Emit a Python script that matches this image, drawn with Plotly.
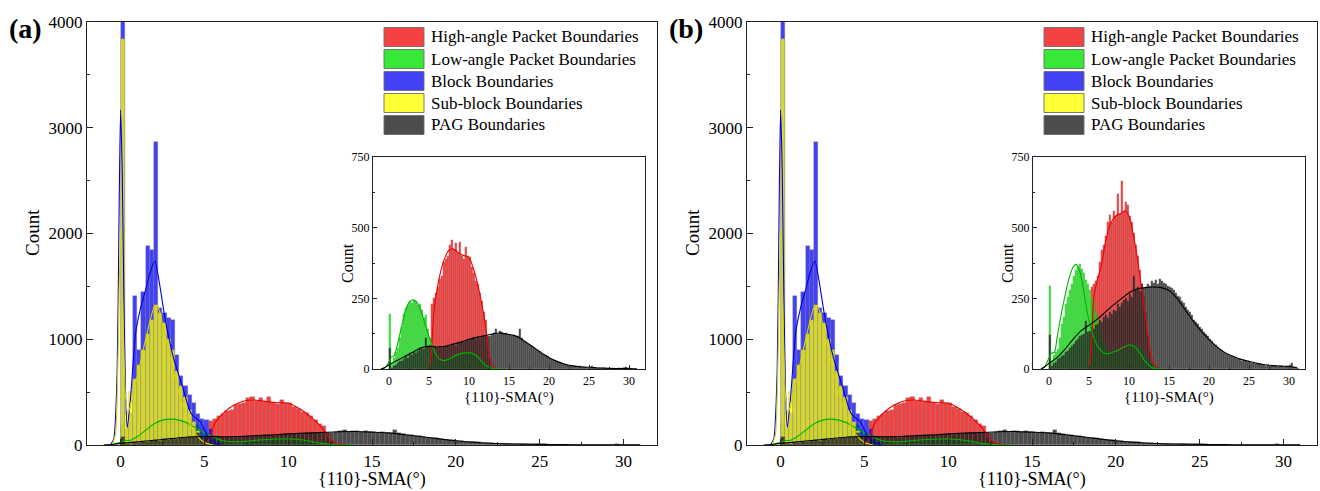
import numpy as np
import plotly.graph_objects as go

W, H = 1320, 491
BIN = 0.25
FONT = "Liberation Serif"

# ---------------- data: histogram counts per 0.25 deg bin ----------------
# High-angle packet boundaries (panel a main + inset a), bins start at 5.25
red_a_start = 5.25
red_a = [230, 250, 270, 290, 320, 330, 380, 390, 400, 440, 455, 420, 445, 410, 450,
         400, 390, 430, 400, 395, 360, 340, 310, 300, 270, 240, 200, 175, 110, 40]
# Low-angle packet boundaries (a), bins start at 0
green_a_start = 0.0
green_a = [195, 20, 40, 60, 75, 110, 150, 195, 215, 225, 240, 235, 245, 240, 225, 230,
           210, 180, 190, 140, 110, 80, 60, 45, 35, 30, 28, 30, 32, 35, 38, 42,
           45, 48, 52, 55, 57, 58, 60, 58, 60, 57, 55, 50, 42, 35, 28, 20,
           15, 10, 6, 3, 2]
# Block boundaries, bins start at 0
blue_start = 0.0
blue = [4300, 150, 300, 1410, 900, 1450, 1880, 1840, 2870, 1300, 1250, 1200, 1180,
        850, 650, 560, 470, 400, 290, 250, 240, 150, 80, 30, 10]
# Sub-block boundaries, bins start at 0
yellow_start = 0.0
yellow = [3840, 300, 500, 620, 760, 900, 1050, 1180, 1320, 1250, 1150, 1000, 900,
          700, 560, 450, 330, 220, 130, 60, 20]
# PAG boundaries (a), bins start at 0
pag_a_start = 0.0
pag_a = [75, 5, 10, 15, 22, 28, 30, 35, 45, 40, 55, 50, 60, 58, 65, 70,
         75, 72, 110, 80, 85, 80, 82, 78, 76, 80, 74, 78, 80, 85, 82, 88,
         90, 85, 95, 92, 98, 95, 100, 105, 102, 108, 112, 105, 115, 110, 118, 112,
         120, 115, 118, 125, 128, 140, 125, 135, 130, 125, 128, 122, 120, 118, 122, 115,
         118, 140, 110, 100, 95, 90, 85, 82, 75, 70, 68, 62, 58, 52, 48, 45,
         40, 36, 32, 30, 26, 24, 20, 18, 16, 14, 12, 11, 10, 9, 8, 12,
         7, 6, 8, 5, 5, 9, 4, 4, 3, 4, 3, 2, 3, 2, 2, 3,
         2, 1, 2, 2, 1, 2, 8, 2, 3, 1, 1, 0]

# Inset (b)
red_b_start = 5.25
red_b = [290, 300, 310, 330, 380, 420, 440, 470, 520, 545, 520, 560, 540, 620, 550,
         665, 560, 590, 580, 540, 520, 480, 440, 400, 350, 300, 260, 200, 120, 60, 20]
green_b_start = 0.0
green_b = [295, 30, 50, 60, 70, 110, 160, 185, 230, 255, 280, 300, 330, 350, 360, 372,
           355, 340, 315, 300, 280, 250, 232, 200, 184, 150, 120, 95, 80, 68, 60, 55,
           53, 55, 58, 60, 64, 68, 72, 76, 80, 84, 86, 85, 82, 76, 68, 58,
           48, 36, 26, 18, 12, 7, 4, 2]
pag_b_start = 0.0
pag_b = [120, 10, 20, 25, 35, 40, 45, 50, 60, 65, 75, 80, 90, 100, 105, 115,
         120, 125, 170, 130, 135, 150, 140, 155, 160, 175, 165, 185, 190, 180, 200, 195,
         210, 205, 230, 220, 235, 245, 250, 240, 265, 255, 330, 280, 290, 275, 300, 285,
         290, 300, 295, 310, 305, 315, 300, 320, 310, 305, 300, 295, 290, 285, 280, 270,
         260, 255, 240, 235, 220, 210, 200, 190, 175, 165, 160, 150, 140, 130, 125, 115,
         105, 100, 90, 85, 78, 72, 68, 60, 55, 52, 48, 45, 42, 40, 36, 34,
         30, 32, 28, 26, 25, 22, 20, 18, 17, 16, 14, 13, 12, 13, 11, 10,
         10, 9, 8, 10, 9, 8, 10, 12, 15, 20, 8, 5, 2]

# ---------------- data: distribution curves ----------------
blue_cx = [-0.6, -0.4, -0.2, -0.1, 0.0, 0.1, 0.2, 0.3, 0.4, 0.6, 0.9, 1.2, 1.5, 1.8, 2.05,
           2.3, 2.6, 2.9, 3.2, 3.7, 4.2, 4.8, 5.2, 5.6, 6.0]
blue_cy = [0, 60, 700, 2000, 3170, 2600, 1400, 500, 160, 450, 1060, 1300, 1470, 1650, 1740,
           1550, 1250, 1000, 800, 550, 300, 210, 80, 20, 0]
yellow_cx = [-0.5, -0.3, -0.15, 0.0, 0.15, 0.3, 0.45, 0.7, 1.0, 1.5, 2.0, 2.2, 2.5, 3.0,
             3.5, 4.0, 4.5, 5.0, 5.5]
yellow_cy = [0, 100, 800, 2050, 1200, 450, 300, 450, 650, 1000, 1300, 1320, 1150, 800,
             480, 250, 100, 25, 0]
green_a_cx = [-1.0, -0.5, 0.0, 0.3, 0.6, 1.0, 1.5, 2.0, 2.5, 3.0, 3.5, 4.0, 4.5, 5.0, 5.5,
              6.0, 6.5, 7.0, 7.5, 8.0, 8.5, 9.0, 9.5, 10.0, 10.5, 11.0, 11.5, 12.0, 12.5,
              13.0, 14.0]
green_a_cy = [0, 5, 25, 42, 45, 80, 140, 200, 235, 245, 235, 205, 160, 115, 75,
              45, 33, 30, 35, 43, 50, 55, 57, 57, 55, 45, 30, 15, 6, 2, 0]
red_a_cx = [5.0, 5.3, 5.6, 6.0, 6.5, 7.0, 7.5, 8.0, 8.5, 9.0, 9.5, 10.0, 10.5, 11.0, 11.5,
            12.0, 12.3, 12.6, 13.0, 13.5]
red_a_cy = [0, 60, 200, 280, 350, 395, 420, 425, 415, 405, 400, 395, 360, 310, 245,
            165, 100, 40, 8, 0]
pag_a_cx = [-1, -0.5, 0, 1, 2, 3, 4, 5, 6, 7, 8, 9, 10, 11, 12, 13, 14, 15, 16, 17, 18,
            19, 20, 21, 22, 23, 24, 25, 26, 27, 28, 29, 30, 31]
pag_a_cy = [0, 5, 15, 30, 45, 60, 75, 80, 78, 80, 88, 95, 105, 112, 118, 125, 127, 122,
            115, 97, 78, 58, 40, 27, 17, 11, 8, 6, 4, 3, 2, 2, 2, 1]

green_b_cx = [-1.0, -0.5, 0.0, 0.3, 0.7, 1.0, 1.5, 2.0, 2.5, 3.0, 3.4, 3.8, 4.2, 4.6, 5.0,
              5.5, 6.0, 6.5, 7.0, 7.5, 8.0, 8.5, 9.0, 9.5, 10.0, 10.5, 11.0, 11.5, 12.0,
              12.5, 13.0, 14.0]
green_b_cy = [0, 10, 40, 55, 60, 110, 190, 260, 320, 360, 370, 350, 300, 230, 170,
              120, 85, 65, 55, 55, 60, 65, 72, 80, 85, 82, 70, 50, 28, 12, 4, 0]
red_b_cx = [5.0, 5.3, 5.6, 6.0, 6.5, 7.0, 7.5, 8.0, 8.5, 9.0, 9.5, 10.0, 10.5, 11.0, 11.5,
            12.0, 12.5, 13.0, 13.5, 14.0]
red_b_cy = [0, 80, 250, 310, 360, 440, 500, 530, 545, 550, 560, 540, 480, 400, 300,
            200, 90, 25, 5, 0]
pag_b_cx = [-1, -0.5, 0, 1, 2, 3, 4, 5, 6, 7, 8, 9, 10, 11, 12, 13, 14, 15, 16, 17, 18,
            19, 20, 21, 22, 23, 24, 25, 26, 27, 28, 29, 30, 31]
pag_b_cy = [0, 8, 20, 40, 70, 105, 135, 155, 175, 200, 225, 248, 270, 283, 288, 290, 288,
            278, 250, 210, 170, 135, 105, 78, 58, 45, 34, 27, 20, 15, 12, 10, 9, 5]

legend_labels = ["High-angle Packet Boundaries", "Low-angle Packet Boundaries",
                 "Block Boundaries", "Sub-block Boundaries", "PAG Boundaries"]

# ---------------- styles ----------------
C_RED = "rgba(240,0,0,0.74)"
C_GREEN = "rgba(0,225,0,0.78)"
C_BLUE = "rgba(0,0,240,0.74)"
C_YELLOW = "rgba(255,255,0,0.78)"
C_PAG = "rgba(25,25,25,0.78)"
legend_colors = [C_RED, C_GREEN, C_BLUE, C_YELLOW, C_PAG]
L_RED, L_GREEN, L_BLUE, L_YELLOW, L_PAG = "#ee0000", "#00b400", "#0000dd", "#d6d600", "#000000"

fig = go.Figure()


def add_hist(xa, ya, start, vals, color, lw):
    x = start + BIN * (np.arange(len(vals)) + 0.5)
    fig.add_trace(go.Bar(x=x, y=vals, width=BIN, xaxis=xa, yaxis=ya, showlegend=False,
                         marker=dict(color=color, line=dict(color="rgba(120,120,120,0.6)", width=lw))))


def add_curve(xa, ya, cx, cy, color):
    fig.add_trace(go.Scatter(x=cx, y=cy, mode="lines", xaxis=xa, yaxis=ya, showlegend=False,
                             line=dict(color=color, width=1.1, shape="spline", smoothing=0.6)))


for xa, ya in (("x", "y"), ("x3", "y3")):
    add_hist(xa, ya, red_a_start, red_a, C_RED, 0.5)
    add_hist(xa, ya, green_a_start, green_a, C_GREEN, 0.5)
    add_hist(xa, ya, blue_start, blue, C_BLUE, 0.5)
    add_hist(xa, ya, yellow_start, yellow, C_YELLOW, 0.5)
    add_hist(xa, ya, pag_a_start, pag_a, C_PAG, 0.5)
    add_curve(xa, ya, red_a_cx, red_a_cy, L_RED)
    add_curve(xa, ya, green_a_cx, green_a_cy, L_GREEN)
    add_curve(xa, ya, blue_cx, blue_cy, L_BLUE)
    add_curve(xa, ya, yellow_cx, yellow_cy, L_YELLOW)
    add_curve(xa, ya, pag_a_cx, pag_a_cy, L_PAG)

# inset a
add_hist("x2", "y2", red_a_start, red_a, C_RED, 0.3)
add_hist("x2", "y2", green_a_start, green_a, C_GREEN, 0.3)
add_hist("x2", "y2", pag_a_start, pag_a, C_PAG, 0.3)
add_curve("x2", "y2", red_a_cx, red_a_cy, L_RED)
add_curve("x2", "y2", green_a_cx, green_a_cy, L_GREEN)
add_curve("x2", "y2", pag_a_cx, pag_a_cy, L_PAG)
# inset b
add_hist("x4", "y4", red_b_start, red_b, C_RED, 0.3)
add_hist("x4", "y4", green_b_start, green_b, C_GREEN, 0.3)
add_hist("x4", "y4", pag_b_start, pag_b, C_PAG, 0.3)
add_curve("x4", "y4", red_b_cx, red_b_cy, L_RED)
add_curve("x4", "y4", green_b_cx, green_b_cy, L_GREEN)
add_curve("x4", "y4", pag_b_cx, pag_b_cy, L_PAG)


def px(v):
    return v / W


def py(v):
    return 1 - v / H


def xax(dom, fs, tl, anchor):
    return dict(domain=[px(dom[0]), px(dom[1])], range=[-2, 32], anchor=anchor,
                tickvals=[0, 5, 10, 15, 20, 25, 30], ticks="inside", ticklen=tl, tickwidth=1,
                tickcolor="#222", showline=True, linecolor="#222", linewidth=1.4, mirror=True,
                showgrid=False, zeroline=False, automargin=False,
                tickfont=dict(family=FONT, size=fs, color="#000"),
                minor=dict(ticks="inside", ticklen=tl / 2, dtick=2.5, tick0=0, tickcolor="#222"))


def yax(dom, rng, vals, minor, fs, tl, anchor):
    return dict(domain=[py(dom[1]), py(dom[0])], range=rng, anchor=anchor,
                tickvals=vals, ticks="inside", ticklen=tl, tickwidth=1, tickcolor="#222",
                showline=True, linecolor="#222", linewidth=1.4, mirror=True,
                showgrid=False, zeroline=False, automargin=False,
                tickfont=dict(family=FONT, size=fs, color="#000"),
                minor=dict(ticks="inside", ticklen=tl / 2, dtick=minor, tick0=0, tickcolor="#222"))


layout = dict(
    width=W, height=H, margin=dict(l=0, r=0, t=0, b=0, pad=0, autoexpand=False),
    paper_bgcolor="white", plot_bgcolor="white", barmode="overlay", bargap=0,
    showlegend=False,
    xaxis=xax((87, 657), 17, 6, "y"),
    yaxis=yax((22, 445), [0, 4000], [0, 1000, 2000, 3000, 4000], 500, 17, 6, "x"),
    xaxis2=xax((373, 645), 12, 4, "y2"),
    yaxis2=yax((157, 369), [0, 750], [0, 250, 500, 750], 125, 12, 4, "x2"),
    xaxis3=xax((747, 1317), 17, 6, "y3"),
    yaxis3=yax((22, 445), [0, 4000], [0, 1000, 2000, 3000, 4000], 500, 17, 6, "x3"),
    xaxis4=xax((1033, 1305), 12, 4, "y4"),
    yaxis4=yax((157, 369), [0, 750], [0, 250, 500, 750], 125, 12, 4, "x4"),
)
fig.update_layout(**layout)

shapes = []
annotations = []
for off, tag in ((0, "(a)"), (660, "(b)")):
    # panel label
    annotations.append(dict(x=px(off + 7), y=py(28), xref="paper", yref="paper", text="<b>%s</b>" % tag,
                            showarrow=False, xanchor="left", yanchor="middle",
                            font=dict(family=FONT, size=28, color="#000")))
    # axis titles
    annotations.append(dict(x=px(off + 32), y=py(233), xref="paper", yref="paper", text="Count",
                            textangle=-90, showarrow=False, xanchor="center", yanchor="middle",
                            font=dict(family=FONT, size=19, color="#000")))
    annotations.append(dict(x=px(off + 372), y=py(479), xref="paper", yref="paper", text="{110}-SMA(°)",
                            showarrow=False, xanchor="center", yanchor="middle",
                            font=dict(family=FONT, size=18, color="#000")))
    annotations.append(dict(x=px(off + 347), y=py(263), xref="paper", yref="paper", text="Count",
                            textangle=-90, showarrow=False, xanchor="center", yanchor="middle",
                            font=dict(family=FONT, size=16, color="#000")))
    annotations.append(dict(x=px(off + 509), y=py(397), xref="paper", yref="paper", text="{110}-SMA(°)",
                            showarrow=False, xanchor="center", yanchor="middle",
                            font=dict(family=FONT, size=15, color="#000")))
    # legend
    for i, (lab, col) in enumerate(zip(legend_labels, legend_colors)):
        yc = 37 + 22 * i
        shapes.append(dict(type="rect", xref="paper", yref="paper",
                           x0=px(off + 384), x1=px(off + 424), y0=py(yc + 9.5), y1=py(yc - 9.5),
                           fillcolor=col, line=dict(color="rgba(110,110,110,0.9)", width=1)))
        annotations.append(dict(x=px(off + 429), y=py(yc), xref="paper", yref="paper", text=lab,
                                showarrow=False, xanchor="left", yanchor="middle",
                                font=dict(family=FONT, size=17, color="#000")))

fig.update_layout(shapes=shapes, annotations=annotations)
fig.write_html("out.html")
